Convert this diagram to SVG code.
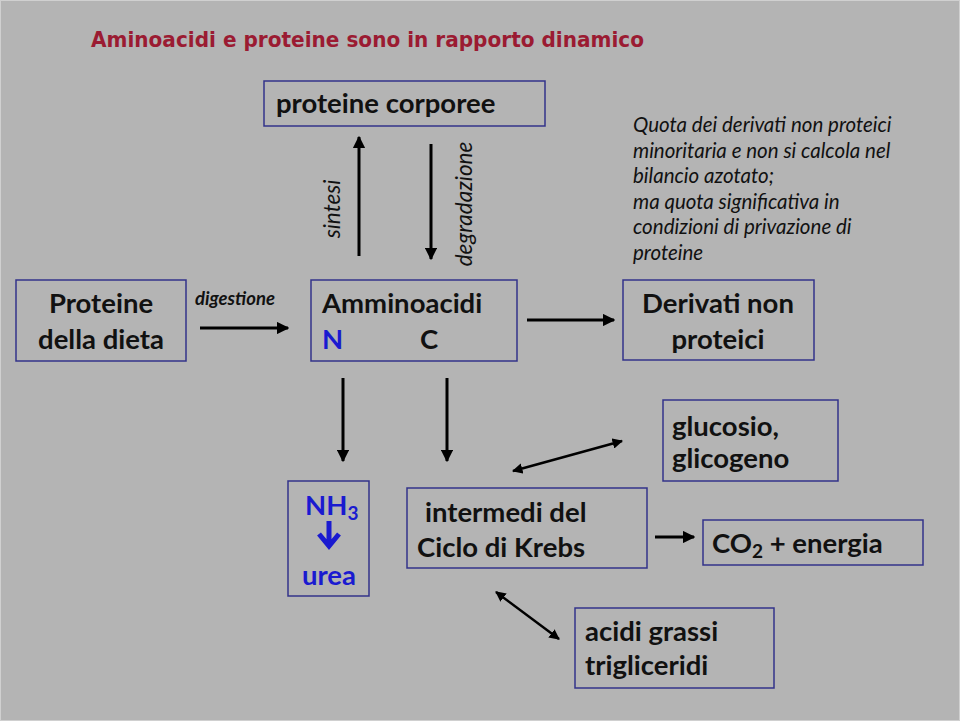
<svg xmlns="http://www.w3.org/2000/svg" width="960" height="721" viewBox="0 0 960 721">
<defs>
<marker id="ah" viewBox="0 0 10 10" refX="9" refY="5" markerWidth="4.2" markerHeight="4.2" orient="auto-start-reverse" markerUnits="strokeWidth">
<path d="M0,0 L10,5 L0,10 z" fill="#000"/>
</marker>
<style>
.box{fill:none;stroke:#33338a;stroke-width:1.5}
.t{font-family:Lato,"Open Sans",sans-serif;font-weight:bold;font-size:27.5px;fill:#111}
.it{font-family:Lato,"Open Sans",sans-serif;font-style:italic;fill:#111}
.ln{stroke:#000;stroke-width:3;fill:none;marker-end:url(#ah)}
.dl{stroke:#000;stroke-width:2.5;fill:none;marker-end:url(#ah);marker-start:url(#ah)}
</style>
</defs>
<rect x="0" y="0" width="960" height="721" fill="#b4b4b4"/>
<rect x="0.5" y="0.5" width="959" height="720" fill="none" stroke="#d0d0d0" stroke-width="1"/>
<text x="91" y="47" font-family="'DejaVu Sans','Liberation Sans',sans-serif" font-size="22" font-weight="bold" fill="#9b1b32" textLength="553" lengthAdjust="spacingAndGlyphs">Aminoacidi e proteine sono in rapporto dinamico</text>

<g id="proteine-corporee">
<rect class="box" x="264" y="81" width="281" height="45"/>
<text class="t" x="276" y="113">proteine corporee</text>
</g>
<g id="nota">
<text class="it" font-size="20.5" x="633">
<tspan x="633" y="132">Quota dei derivati non proteici</tspan>
<tspan x="633" y="158">minoritaria e non si calcola nel</tspan>
<tspan x="633" y="183">bilancio azotato;</tspan>
<tspan x="633" y="209">ma quota significativa in</tspan>
<tspan x="633" y="234">condizioni di privazione di</tspan>
<tspan x="633" y="260">proteine</tspan>
</text>
</g>
<g id="proteine-dieta">
<rect class="box" x="16" y="280" width="170" height="81"/>
<text class="t" x="101" y="313" text-anchor="middle">Proteine</text>
<text class="t" x="101" y="349" text-anchor="middle">della dieta</text>
</g>
<g id="amminoacidi">
<rect class="box" x="311" y="280" width="206" height="81"/>
<text class="t" x="322" y="313">Amminoacidi</text>
<text class="t" x="322" y="349" style="fill:#1a1ad0">N</text>
<text class="t" x="420" y="349">C</text>
</g>
<g id="derivati">
<rect class="box" x="623" y="280" width="191" height="80"/>
<text class="t" x="718" y="313" text-anchor="middle">Derivati non</text>
<text class="t" x="718" y="349" text-anchor="middle">proteici</text>
</g>
<g id="nh3-urea">
<rect class="box" x="288" y="481" width="81" height="115"/>
<text class="t" x="305" y="515" style="fill:#1a1ad0">NH<tspan font-size="19" dy="5">3</tspan></text>
<path d="M329,521 V545 M319,534 L329,546 L339,534" stroke="#1a1ad0" stroke-width="5" fill="none" stroke-linecap="butt"/>
<text class="t" x="329" y="585" text-anchor="middle" style="fill:#1a1ad0">urea</text>
</g>
<g id="krebs">
<rect class="box" x="407" y="488" width="240" height="80"/>
<text class="t" x="425" y="522">intermedi del</text>
<text class="t" x="417" y="557">Ciclo di Krebs</text>
</g>
<g id="glucosio">
<rect class="box" x="663" y="400" width="175" height="81"/>
<text class="t" x="672" y="436">glucosio,</text>
<text class="t" x="672" y="468">glicogeno</text>
</g>
<g id="co2">
<rect class="box" x="703" y="520" width="220" height="45"/>
<text class="t" x="712" y="553">CO<tspan font-size="19" dy="5">2</tspan><tspan dy="-5"> + energia</tspan></text>
</g>
<g id="acidi-grassi">
<rect class="box" x="575" y="608" width="199" height="80"/>
<text class="t" x="585" y="641">acidi grassi</text>
<text class="t" x="585" y="675">trigliceridi</text>
</g>

<g id="connectors">
<line class="ln" x1="359" y1="256" x2="359" y2="137"/>
<line class="ln" x1="431" y1="144" x2="431" y2="259"/>
<text class="it" font-size="22.5" transform="translate(340,209) rotate(-90)" text-anchor="middle">sintesi</text>
<text class="it" font-size="22.5" transform="translate(472,204) rotate(-90)" text-anchor="middle">degradazione</text>
<text class="it" font-size="18.5" x="195" y="305" font-weight="bold">digestione</text>
<line class="ln" x1="200" y1="328" x2="288" y2="328"/>
<line class="ln" x1="527" y1="320" x2="614" y2="320"/>
<line class="ln" x1="343" y1="378" x2="343" y2="461"/>
<line class="ln" x1="447" y1="378" x2="447" y2="461"/>
<line class="dl" x1="513" y1="471" x2="622" y2="441"/>
<line class="ln" x1="655" y1="537" x2="694" y2="537"/>
<line class="dl" x1="496" y1="592" x2="559" y2="639"/>
</g>
</svg>
